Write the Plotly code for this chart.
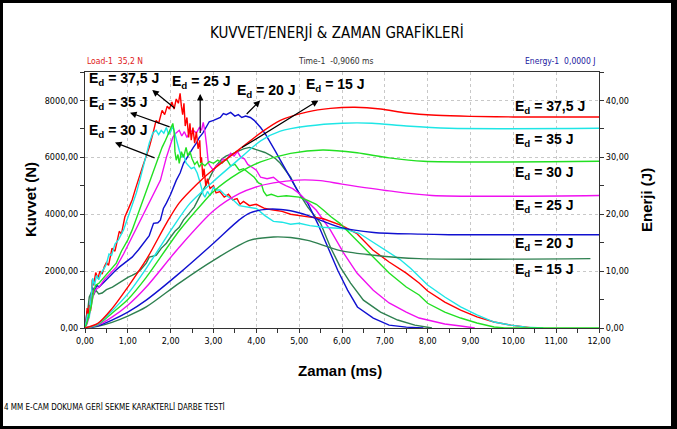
import plotly.graph_objects as go

# ---------------- data ----------------
x_ticks = [0, 1, 2, 3, 4, 5, 6, 7, 8, 9, 10, 11, 12]
x_ticklabels = ["0,00", "1,00", "2,00", "3,00", "4,00", "5,00", "6,00", "7,00", "8,00", "9,00", "10,00", "11,00", "12,00"]
y_ticks = [0, 2000, 4000, 6000, 8000]
y_ticklabels = ["0,00", "2000,00", "4000,00", "6000,00", "8000,00"]
y2_ticks = [0, 10, 20, 30, 40]
y2_ticklabels = ["0,00", "10,00", "20,00", "30,00", "40,00"]

series_names = ["37,5 J", "35 J", "30 J", "25 J", "20 J", "15 J"]

# Force curves (time ms, force N)
red_force_t = [0.00, 0.03, 0.05, 0.08, 0.10, 0.13, 0.17, 0.20, 0.25, 0.30, 0.35, 0.40, 0.45, 0.50, 0.55, 0.63, 0.70, 0.80, 0.85, 0.93, 1.03, 1.10, 1.18, 1.26, 1.35, 1.42, 1.50, 1.58, 1.66, 1.72, 1.80, 1.86, 1.92, 1.97, 2.03, 2.08, 2.13, 2.18, 2.22, 2.25, 2.28, 2.31, 2.34, 2.38, 2.42, 2.45, 2.48, 2.52, 2.56, 2.60, 2.64, 2.68, 2.70, 2.72, 2.75, 2.78, 2.82, 2.86, 2.92, 3.00, 3.06, 3.15, 3.25, 3.35, 3.45, 3.55, 3.62, 3.70, 3.84, 4.00, 4.20, 4.40, 4.60, 4.80, 5.00, 5.25, 5.55, 5.80, 6.00, 6.34, 6.72, 7.10, 7.50, 7.80, 8.00, 8.40, 8.77, 9.15, 9.55, 9.94, 10.30, 10.45]
red_force = [0, 300, 700, 450, 800, 600, 1700, 1500, 1950, 1750, 2000, 1900, 2150, 2300, 2200, 2800, 2700, 3400, 3300, 3900, 4250, 4500, 4900, 5300, 5700, 6000, 6350, 6800, 7300, 7200, 7650, 7500, 7800, 7700, 7950, 7700, 8050, 7900, 8250, 7800, 7500, 7900, 7100, 7400, 6700, 7200, 6600, 7050, 6500, 6900, 6300, 6600, 5800, 6000, 5300, 5600, 5000, 5250, 4900, 5000, 4750, 4800, 4600, 4700, 4500, 4550, 4350, 4450, 4300, 4350, 4200, 4150, 4100, 4000, 3950, 3900, 3850, 3720, 3600, 3330, 2740, 2320, 1930, 1580, 1300, 910, 630, 390, 210, 100, 30, 0]

cyan_force_t = [0.00, 0.03, 0.06, 0.10, 0.14, 0.18, 0.22, 0.27, 0.32, 0.38, 0.45, 0.50, 0.56, 0.62, 0.70, 0.78, 0.90, 1.00, 1.10, 1.20, 1.28, 1.36, 1.43, 1.50, 1.58, 1.66, 1.72, 1.78, 1.84, 1.90, 1.95, 2.00, 2.05, 2.09, 2.13, 2.17, 2.20, 2.25, 2.30, 2.36, 2.42, 2.48, 2.55, 2.62, 2.67, 2.72, 2.76, 2.80, 2.86, 2.92, 3.00, 3.06, 3.15, 3.25, 3.35, 3.46, 3.60, 3.77, 4.00, 4.20, 4.40, 4.60, 4.80, 5.00, 5.25, 5.55, 5.80, 6.00, 6.40, 6.90, 7.37, 7.60, 8.00, 8.40, 8.77, 9.15, 9.55, 9.94, 10.30, 10.70]
cyan_force = [0, 200, 500, 350, 1000, 1750, 1500, 1850, 1700, 1950, 2100, 2250, 2600, 2550, 2950, 3100, 3450, 3900, 4300, 4750, 5200, 5700, 6100, 6500, 6850, 6950, 6800, 6950, 6850, 7050, 6800, 6900, 7100, 6850, 6700, 6400, 6250, 6000, 6100, 5800, 5700, 5600, 5650, 5450, 5200, 4900, 4700, 4600, 4800, 4650, 4950, 4850, 4850, 4700, 4600, 4500, 4300, 4250, 4200, 3950, 3750, 3720, 3650, 3680, 3600, 3540, 3520, 3500, 3330, 2840, 2390, 2100, 1510, 1090, 740, 460, 210, 100, 30, 0]

green_force_t = [0.00, 0.05, 0.10, 0.15, 0.20, 0.25, 0.33, 0.40, 0.50, 0.60, 0.73, 0.85, 1.00, 1.10, 1.20, 1.30, 1.43, 1.55, 1.66, 1.75, 1.80, 1.88, 1.97, 2.02, 2.05, 2.08, 2.10, 2.13, 2.17, 2.20, 2.25, 2.30, 2.36, 2.40, 2.45, 2.50, 2.56, 2.62, 2.67, 2.72, 2.80, 2.90, 3.00, 3.10, 3.20, 3.30, 3.40, 3.50, 3.60, 3.70, 3.84, 3.95, 4.05, 4.12, 4.17, 4.24, 4.35, 4.50, 4.70, 5.00, 5.20, 5.40, 5.57, 5.75, 5.95, 6.34, 6.73, 7.10, 7.50, 7.80, 8.00, 8.40, 8.77, 9.15, 9.55, 9.80, 12.00]
green_force = [0, 200, 500, 800, 1300, 1500, 1580, 1700, 1900, 2050, 2280, 2700, 3100, 3440, 3850, 4300, 4840, 5300, 5790, 6100, 6350, 6600, 6950, 7100, 7190, 6900, 6200, 5900, 6100, 5790, 6200, 6000, 6350, 6050, 6200, 5950, 5750, 5850, 5650, 5800, 5700, 5850, 5790, 5900, 5800, 5950, 5700, 5750, 5550, 5600, 5450, 5300, 5100, 5050, 4800, 4650, 4700, 4620, 4650, 4600, 4490, 4350, 4140, 3900, 3680, 3090, 2490, 1930, 1440, 1160, 870, 560, 350, 175, 35, 0, 0]

magenta_force_t = [0.00, 0.05, 0.10, 0.15, 0.20, 0.25, 0.33, 0.45, 0.55, 0.73, 0.90, 1.10, 1.30, 1.50, 1.65, 1.76, 1.90, 1.98, 2.05, 2.12, 2.20, 2.26, 2.32, 2.38, 2.45, 2.53, 2.60, 2.67, 2.72, 2.76, 2.80, 2.84, 2.88, 2.92, 3.00, 3.06, 3.16, 3.22, 3.30, 3.40, 3.48, 3.56, 3.64, 3.72, 3.80, 3.90, 4.00, 4.10, 4.25, 4.40, 4.56, 4.70, 4.85, 5.00, 5.20, 5.40, 5.73, 6.04, 6.35, 6.73, 7.10, 7.50, 7.80, 8.00, 8.40, 8.77, 9.10]
magenta_force = [0, 150, 450, 900, 1200, 1350, 1440, 1700, 1850, 2140, 2600, 3190, 3800, 4390, 4850, 5190, 6000, 6400, 6700, 6850, 6950, 6750, 6900, 6700, 6900, 6950, 6850, 7050, 6950, 7230, 6900, 6400, 5800, 5700, 5540, 5700, 5790, 5950, 5900, 6140, 6050, 6200, 6000, 5950, 5750, 5650, 5550, 5300, 5250, 5300, 5100, 5000, 4900, 4730, 4450, 4140, 3440, 2630, 1930, 1330, 880, 560, 350, 280, 140, 70, 0]

blue_force_t = [0.00, 0.03, 0.05, 0.08, 0.12, 0.17, 0.22, 0.28, 0.33, 0.40, 0.50, 0.60, 0.70, 0.80, 0.95, 1.10, 1.25, 1.36, 1.50, 1.60, 1.70, 1.76, 1.83, 1.90, 2.00, 2.13, 2.22, 2.30, 2.40, 2.53, 2.60, 2.67, 2.75, 2.83, 2.90, 3.00, 3.08, 3.16, 3.23, 3.30, 3.40, 3.50, 3.58, 3.66, 3.75, 3.86, 3.95, 4.10, 4.22, 4.33, 4.45, 4.56, 4.68, 4.80, 4.90, 5.00, 5.20, 5.43, 5.66, 5.90, 6.13, 6.36, 6.73, 7.10, 7.50, 7.90]
blue_force = [0, 300, 600, 300, 900, 1440, 1300, 1500, 1440, 1550, 1680, 1850, 2000, 2140, 2300, 2490, 2750, 2980, 3250, 3680, 3700, 3790, 4200, 4390, 4700, 5190, 5450, 5790, 6050, 6350, 6500, 6700, 6850, 7050, 7250, 7300, 7350, 7400, 7540, 7500, 7580, 7450, 7500, 7400, 7450, 7400, 7300, 7050, 6800, 6490, 6200, 5900, 5600, 5300, 5000, 4730, 4390, 3680, 2840, 2030, 1330, 740, 350, 100, 30, 0]

dkgreen_force_t = [0.00, 0.04, 0.07, 0.10, 0.15, 0.20, 0.25, 0.32, 0.40, 0.50, 0.64, 0.75, 0.87, 1.00, 1.10, 1.20, 1.30, 1.43, 1.50, 1.66, 1.78, 1.90, 2.00, 2.10, 2.20, 2.30, 2.43, 2.55, 2.67, 2.75, 2.85, 2.95, 3.06, 3.20, 3.30, 3.46, 3.60, 3.70, 3.84, 3.95, 4.10, 4.20, 4.33, 4.45, 4.56, 4.68, 4.80, 4.90, 5.00, 5.20, 5.35, 5.50, 5.73, 5.96, 6.20, 6.50, 6.90, 7.30, 7.70, 8.10]
dkgreen_force = [0, 300, 700, 1090, 1250, 1150, 1330, 1200, 1230, 1350, 1440, 1550, 1680, 1780, 1850, 1930, 2050, 2280, 2490, 2550, 2800, 2980, 3200, 3400, 3540, 3800, 4030, 4250, 4600, 4800, 5100, 5400, 5700, 5950, 6050, 6140, 6250, 6300, 6350, 6300, 6240, 6170, 6070, 5950, 5790, 5550, 5300, 5000, 4730, 4250, 3950, 3680, 2840, 2140, 1580, 980, 560, 280, 100, 0]

# Energy curves (time ms, energy J)
red_energy_t = [0, 0.3, 0.63, 1.0, 1.43, 1.9, 2.2, 2.6, 3.0, 3.6, 4.1, 4.56, 5.2, 5.73, 6.3, 6.9, 7.5, 8.2, 9.0, 10.0, 12.0]
red_energy = [0, 0.8, 3.4, 7.2, 12.0, 18.4, 22.0, 25.2, 27.9, 31.4, 34.3, 36.5, 38.0, 38.6, 38.8, 38.5, 37.8, 37.4, 37.2, 37.1, 37.1]
cyan_energy_t = [0, 0.3, 0.63, 1.0, 1.43, 2.05, 2.45, 3.0, 3.63, 4.1, 4.56, 5.2, 6.0, 6.7, 7.5, 8.5, 12.0]
cyan_energy = [0, 0.7, 3.0, 6.0, 10.5, 17.7, 21.9, 25.8, 29.9, 32.9, 34.6, 35.5, 36.0, 36.0, 35.5, 35.1, 35.1]
green_energy_t = [0, 0.3, 0.63, 1.0, 1.43, 2.2, 2.74, 3.0, 3.6, 4.1, 4.8, 5.55, 6.35, 7.1, 7.9, 12.0]
green_energy = [0, 0.6, 2.6, 5.0, 8.9, 17.1, 21.9, 24.0, 27.3, 29.2, 30.7, 31.3, 30.8, 29.9, 29.3, 29.3]
magenta_energy_t = [0, 0.3, 0.63, 1.0, 1.43, 2.2, 3.0, 3.6, 4.0, 4.4, 4.96, 5.5, 6.0, 7.1, 8.1, 12.0]
magenta_energy = [0, 0.5, 1.9, 4.0, 7.2, 14.2, 20.6, 23.6, 24.8, 25.5, 26.0, 25.9, 25.3, 24.1, 23.3, 23.3]
blue_energy_t = [0, 0.3, 0.63, 1.0, 1.43, 2.2, 3.0, 3.6, 3.84, 4.3, 4.8, 5.2, 5.96, 6.74, 7.8, 8.5, 12.0]
blue_energy = [0, 0.4, 1.4, 2.8, 4.9, 9.6, 14.9, 19.0, 20.2, 20.9, 20.6, 19.8, 17.7, 16.8, 16.5, 16.4, 16.4]
dkgreen_energy_t = [0, 0.3, 0.63, 1.0, 1.43, 2.2, 3.0, 3.84, 4.4, 4.8, 5.2, 5.96, 6.74, 7.8, 11.8]
dkgreen_energy = [0, 0.3, 1.0, 2.1, 3.7, 7.9, 11.9, 15.4, 16.0, 15.9, 15.4, 13.6, 12.8, 12.2, 12.2]

colors = {"red": "#ff0000", "cyan": "#1ee6e6", "green": "#22e022",
          "magenta": "#f010f0", "blue": "#1010d0", "dkgreen": "#2e8050"}

# ---------------- figure ----------------
W, H = 677, 429
L, R, T, B = 85, 78, 72, 101
PW, PH = W - L - R, H - T - B


def px(x):
    return (x - L) / PW


def py(y):
    return (H - B - y) / PH


fig = go.Figure()

energy_sets = [
    ("dkgreen", dkgreen_energy_t, dkgreen_energy),
    ("blue", blue_energy_t, blue_energy),
    ("magenta", magenta_energy_t, magenta_energy),
    ("green", green_energy_t, green_energy),
    ("cyan", cyan_energy_t, cyan_energy),
    ("red", red_energy_t, red_energy),
]
for c, t, e in energy_sets:
    fig.add_trace(go.Scatter(x=t, y=e, yaxis="y2", mode="lines",
                             line=dict(color=colors[c], width=1.4, shape="spline", smoothing=0.8),
                             showlegend=False, hoverinfo="skip"))

force_sets = [
    ("dkgreen", dkgreen_force_t, dkgreen_force),
    ("blue", blue_force_t, blue_force),
    ("magenta", magenta_force_t, magenta_force),
    ("red", red_force_t, red_force),
    ("cyan", cyan_force_t, cyan_force),
    ("green", green_force_t, green_force),
]
for c, t, f in force_sets:
    fig.add_trace(go.Scatter(x=t, y=f, mode="lines",
                             line=dict(color=colors[c], width=1.4),
                             showlegend=False, hoverinfo="skip"))

narrow = "Liberation Sans Narrow, Arial Narrow, DejaVu Sans Condensed, sans-serif"
bold = "Liberation Sans, Arial, sans-serif"

annotations = []


def ed_label(x, y, val, xanchor="left"):
    annotations.append(dict(x=x, y=y, xref="x", yref="y", xanchor=xanchor, yanchor="middle",
                            text="<b>E<sub>d</sub> = " + val + "</b>", showarrow=False,
                            font=dict(family=bold, size=14, color="black")))


def ed_arrow(hx, hy, tx, ty):
    annotations.append(dict(x=hx, y=hy, ax=tx, ay=ty, xref="x", yref="y", axref="x", ayref="y",
                            text="", showarrow=True, arrowhead=2, arrowsize=1.1,
                            arrowwidth=1.2, arrowcolor="black"))


# left / top labels
ed_label(0.04, 8750, "37,5 J")
ed_label(0.04, 7900, "35 J")
ed_label(0.04, 6930, "30 J")
ed_label(1.99, 8650, "25 J")
ed_label(3.50, 8330, "20 J")
ed_label(5.12, 8540, "15 J")
ed_arrow(1.57, 8370, 2.13, 7680)
ed_arrow(1.05, 7570, 2.01, 7050)
ed_arrow(0.70, 6520, 1.66, 5960)
ed_arrow(2.69, 8230, 2.69, 6800)
ed_arrow(4.09, 8000, 3.74, 7470)
ed_arrow(5.45, 8000, 3.63, 6310)

# right labels
ed_label(10.0, 7770, "37,5 J")
ed_label(10.0, 6610, "35 J")
ed_label(10.0, 5450, "30 J")
ed_label(10.0, 4290, "25 J")
ed_label(10.0, 2950, "20 J")
ed_label(10.0, 2040, "15 J")


def paper_text(x, y, text, size, color="black", family=narrow, xanchor="center", angle=0):
    annotations.append(dict(x=px(x), y=py(y), xref="paper", yref="paper", text=text,
                            showarrow=False, xanchor=xanchor, yanchor="middle", textangle=angle,
                            font=dict(family=family, size=size, color=color)))


paper_text(337, 32, "KUVVET/ENERJİ &amp; ZAMAN GRAFİKLERİ", 15)
paper_text(85, 61, "Load-1  35,2 N", 8.5, color="#e02020", xanchor="left")
paper_text(336, 61, "Time-1  -0,9060 ms", 8.5, color="#303030")
paper_text(598, 61, "Energy-1  0,0000 J", 8.5, color="#2020a0", xanchor="right")
paper_text(2, 407, "4 MM E-CAM DOKUMA GERİ SEKME KARAKTERLİ DARBE TESTİ", 8, xanchor="left")
paper_text(340, 370, "<b>Zaman (ms)</b>", 15, family=bold)
paper_text(30, 200, "<b>Kuvvet (N)</b>", 15, family=bold, angle=-90)
paper_text(646, 200, "<b>Enerji (J)</b>", 15, family=bold, angle=-90)

shapes = [dict(type="rect", xref="paper", yref="paper", x0=px(3), x1=px(671), y0=py(426), y1=py(3),
               fillcolor="white", line=dict(width=0), layer="below")]

tickfont = dict(family=narrow, size=9, color="black")
fig.update_layout(
    width=W, height=H,
    margin=dict(l=L, r=R, t=T, b=B),
    paper_bgcolor="black",
    plot_bgcolor="white",
    showlegend=False,
    annotations=annotations,
    shapes=shapes,
    xaxis=dict(range=[0, 12], tickvals=x_ticks, ticktext=x_ticklabels, tickfont=tickfont,
               showgrid=True, gridcolor="#c8c8c8", griddash="dot", gridwidth=1,
               showline=True, linecolor="#333333", linewidth=1, mirror=True,
               ticks="outside", ticklen=4, tickcolor="#333333",
               minor=dict(dtick=0.5, ticks="outside", ticklen=4, tickcolor="#333333", showgrid=False),
               zeroline=False, fixedrange=True),
    yaxis=dict(range=[0, 9000], tickvals=y_ticks, ticktext=y_ticklabels, tickfont=tickfont,
               showgrid=True, gridcolor="#c8c8c8", griddash="dot", gridwidth=1,
               showline=True, linecolor="#333333", linewidth=1,
               ticks="outside", ticklen=4, tickcolor="#333333",
               minor=dict(dtick=1000, ticks="outside", ticklen=4, tickcolor="#333333", showgrid=False),
               zeroline=False, fixedrange=True),
    yaxis2=dict(range=[0, 45], tickvals=y2_ticks, ticktext=y2_ticklabels, tickfont=tickfont,
                overlaying="y", side="right", showgrid=False,
                showline=True, linecolor="#333333", linewidth=1,
                ticks="outside", ticklen=4, tickcolor="#333333",
                minor=dict(dtick=5, ticks="outside", ticklen=4, tickcolor="#333333", showgrid=False),
                zeroline=False, fixedrange=True),
)

fig.write_html("out.html")
